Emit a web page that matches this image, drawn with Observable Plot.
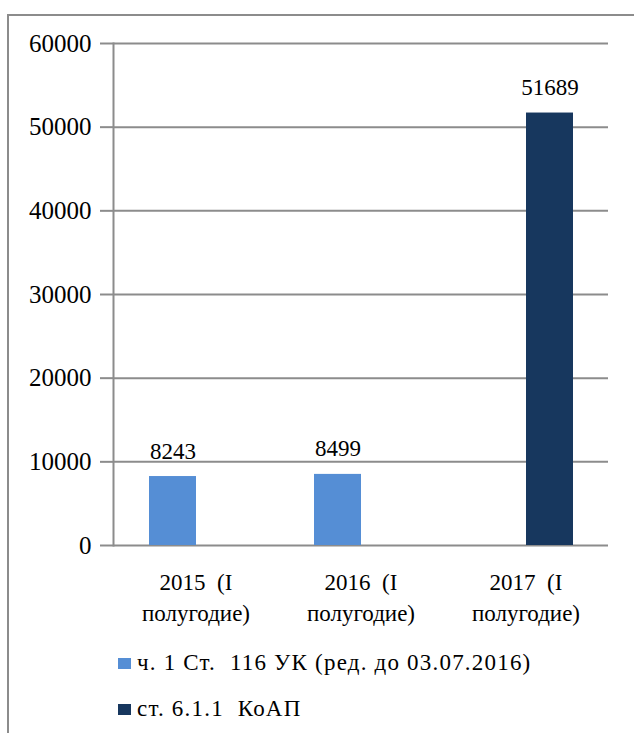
<!DOCTYPE html>
<html>
<head>
<meta charset="utf-8">
<script src="https://cdn.jsdelivr.net/npm/d3@7"></script>
<script src="https://cdn.jsdelivr.net/npm/@observablehq/plot@0.6"></script>
<style>
  html, body { margin: 0; padding: 0; background: #fff; font-family: "Liberation Serif"; }
  #wrap { position: relative; width: 634px; height: 733px; overflow: hidden; }
  #frame { position: absolute; left: 7px; top: 14px; width: 640px; height: 740px; border: 2px solid #8c8c8c; box-sizing: border-box; pointer-events: none; }
  #chart { position: absolute; left: 0; top: 0; }
  #legend { position: absolute; left: 118px; top: 640px; color: #000; font-family: "Liberation Serif"; font-size: 23px; letter-spacing: 1.2px; }
  .item { display: flex; align-items: center; height: 46px; }
  .sw { width: 13px; height: 11px; margin-right: 6px; margin-top: 0px; }
</style>
</head>
<body>
<div id="wrap">
  <div id="chart"></div>
  <div id="legend"></div>
  <div id="frame"></div>
</div>
<script>
const categories = ["2015", "2016", "2017"];
const categoryLabels = ["2015  (I\nполугодие)", "2016  (I\nполугодие)", "2017  (I\nполугодие)"];
const seriesNames = ["ч. 1 Ст.  116 УК (ред. до 03.07.2016)", "ст. 6.1.1  КоАП"];
const seriesColors = ["#558ed5", "#17375e"];
const series1 = [8243, 8499, null];
const series2 = [null, null, 51689];
const yTicks = [0, 10000, 20000, 30000, 40000, 50000, 60000];

const data = [];
categories.forEach((c, i) => {
  if (series1[i] != null) data.push({cat: c, s: seriesNames[0], v: series1[i]});
  if (series2[i] != null) data.push({cat: c, s: seriesNames[1], v: series2[i]});
});

const font = "Liberation Serif";
const gridColor = "#8c8c8c";

const chart = Plot.plot({
  width: 634,
  height: 640,
  marginLeft: 113,
  marginRight: 26,
  marginTop: 43,
  marginBottom: 95,
  style: {fontFamily: font, fontSize: "23px", color: "#000", background: "transparent"},
  fx: {domain: categories, paddingInner: 0, paddingOuter: 0, label: null},
  x: {domain: seriesNames, paddingInner: 0, paddingOuter: 0.75, axis: null},
  y: {domain: [0, 60000], label: null},
  color: {domain: seriesNames, range: seriesColors},
  marks: [
    Plot.gridY(yTicks, {stroke: gridColor, strokeOpacity: 1, strokeWidth: 2}),
    Plot.axisY(yTicks, {tickSize: 13, tickPadding: 9, stroke: gridColor, strokeWidth: 2, fill: "#000", fontSize: 25, fontFamily: font, label: null, tickFormat: d => String(d)}),
    Plot.frame({anchor: "left", facetAnchor: "left", stroke: gridColor, strokeWidth: 2}),
    Plot.barY(data, {fx: "cat", x: "s", y: "v", fill: "s"}),
    Plot.text(data, {fx: "cat", x: "s", y: "v", text: d => String(d.v), lineAnchor: "bottom", dy: -18, fontSize: 23, fontFamily: font, fill: "#000"}),
    Plot.axisFx({anchor: "bottom", tickSize: 0, tickPadding: 22, lineHeight: 1.35, fontSize: 23, fontFamily: font, fill: "#000", label: null, tickFormat: d => categoryLabels[categories.indexOf(d)]})
  ]
});
document.getElementById("chart").appendChild(chart);

const legend = document.getElementById("legend");
seriesNames.forEach((n, i) => {
  const row = document.createElement("div");
  row.className = "item";
  const sw = document.createElement("span");
  sw.className = "sw";
  sw.style.background = seriesColors[i];
  const t = document.createElement("span");
  t.textContent = n;
  t.style.whiteSpace = "pre";
  row.appendChild(sw);
  row.appendChild(t);
  legend.appendChild(row);
});
</script>
</body>
</html>
